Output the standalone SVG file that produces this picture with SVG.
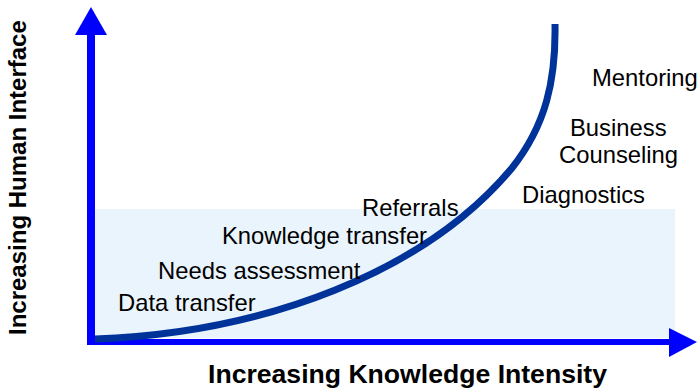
<svg xmlns="http://www.w3.org/2000/svg" width="697" height="389" viewBox="0 0 697 389">
<style>
.lbl{font-family:"Liberation Sans",Arial,sans-serif;font-size:23.8px;fill:#000}
.ax{font-family:"Liberation Sans",Arial,sans-serif;font-weight:bold;fill:#000}
.axis{fill:#0000FF}
</style>
<rect x="0" y="0" width="697" height="389" fill="#fff"/>
<rect id="zone" x="95" y="209" width="580" height="129" fill="#EAF4FC"/>
<g id="axes">
<rect class="axis" x="87" y="33" width="8" height="312"/>
<polygon class="axis" points="91,7 75,35 107,35"/>
<rect class="axis" x="87" y="339" width="584" height="6"/>
<polygon class="axis" points="669,328 697,342 669,357"/>
</g>
<g id="connectors">
<path d="M95,339 C265,333 425,272 512,168 C546,125 556,80 555,24" fill="none" stroke="#003399" stroke-width="7"/>
</g>
<g id="n-data"><text class="lbl" x="118" y="311">Data transfer</text></g>
<g id="n-needs"><text class="lbl" x="158" y="279">Needs assessment</text></g>
<g id="n-know"><text class="lbl" x="222" y="244">Knowledge transfer</text></g>
<g id="n-ref"><text class="lbl" x="362" y="216">Referrals</text></g>
<g id="n-diag"><text class="lbl" x="522" y="203">Diagnostics</text></g>
<g id="n-bus"><text class="lbl" x="570" y="136">Business</text><text class="lbl" x="559" y="163">Counseling</text></g>
<g id="n-ment"><text class="lbl" x="592" y="86">Mentoring</text></g>
<g id="x-label"><text class="ax" x="208" y="383" font-size="26.6">Increasing Knowledge Intensity</text></g>
<g id="y-label"><text class="ax" transform="translate(26,335) rotate(-90)" x="0" y="0" font-size="24">Increasing Human Interface</text></g>
</svg>
